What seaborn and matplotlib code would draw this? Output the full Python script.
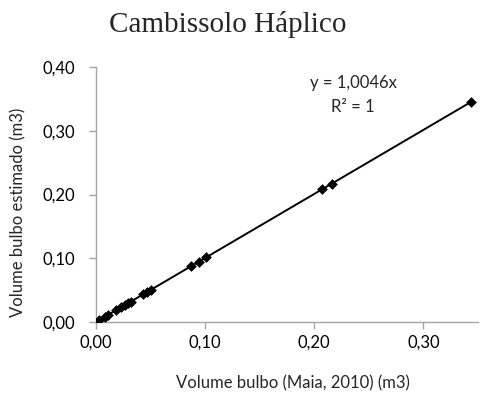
import matplotlib
matplotlib.use("Agg")
import matplotlib.pyplot as plt
import seaborn as sns
import numpy as np
import pandas as pd
from matplotlib.ticker import FuncFormatter, MultipleLocator

# Data
vol_maia = [0.003, 0.008, 0.011, 0.018, 0.023, 0.027, 0.029, 0.032,
            0.043, 0.047, 0.050, 0.087, 0.094, 0.101, 0.207, 0.216, 0.344]
slope = 1.0046
vol_est = [slope * v for v in vol_maia]

title = "Cambissolo Háplico"
xlabel = "Volume bulbo (Maia, 2010) (m3)"
ylabel = "Volume bulbo estimado (m3)"
eq_text = "y = 1,0046x\nR² = 1"

df = pd.DataFrame({"x": vol_maia, "y": vol_est})
trend = pd.DataFrame({"x": [0.0, max(vol_maia)]})
trend["y"] = slope * trend["x"]

sns.set_style("white")
plt.rcParams["font.family"] = ["Lato", "DejaVu Sans"]

fig = plt.figure(figsize=(4.96, 4.0), dpi=100)
ax = fig.add_axes([96/496, 1-322/400, (478-96)/496, (322-67)/400])

sns.lineplot(data=trend, x="x", y="y", ax=ax, color="black", linewidth=1.4)
sns.scatterplot(data=df, x="x", y="y", ax=ax, marker="D", s=30, color="black",
                edgecolor="black", linewidth=0, zorder=3)

ax.set_xlim(0, 0.35)
ax.set_ylim(0, 0.40)
ax.xaxis.set_major_locator(MultipleLocator(0.1))
ax.yaxis.set_major_locator(MultipleLocator(0.1))
fmt = FuncFormatter(lambda v, p: f"{v:.2f}".replace(".", ","))
ax.xaxis.set_major_formatter(fmt)
ax.yaxis.set_major_formatter(fmt)

for s in ["top", "right"]:
    ax.spines[s].set_visible(False)
for s in ["left", "bottom"]:
    ax.spines[s].set_color("#a6a6a6")
    ax.spines[s].set_linewidth(1.0)
ax.tick_params(axis="both", which="major", direction="out", length=5,
               width=1.0, color="#a6a6a6", labelsize=12, labelcolor="black")
ax.tick_params(axis="x", bottom=True, pad=4)
ax.tick_params(axis="y", left=True, pad=10)

ax.set_xlabel("")
ax.set_ylabel("")
fig.text(293/496, 1-383/400, xlabel, ha="center", va="center", fontsize=12)
fig.text(18/496, 1-212/400, ylabel, ha="center", va="center", fontsize=12,
         rotation=90)
fig.text(228/496, 1-24/400, title, ha="center", va="center", fontsize=21,
         family="Liberation Serif")
fig.text(353/496, 1-95/400, eq_text, ha="center", va="center", fontsize=12,
         linespacing=1.55)

fig.savefig("out.png", dpi=100)
